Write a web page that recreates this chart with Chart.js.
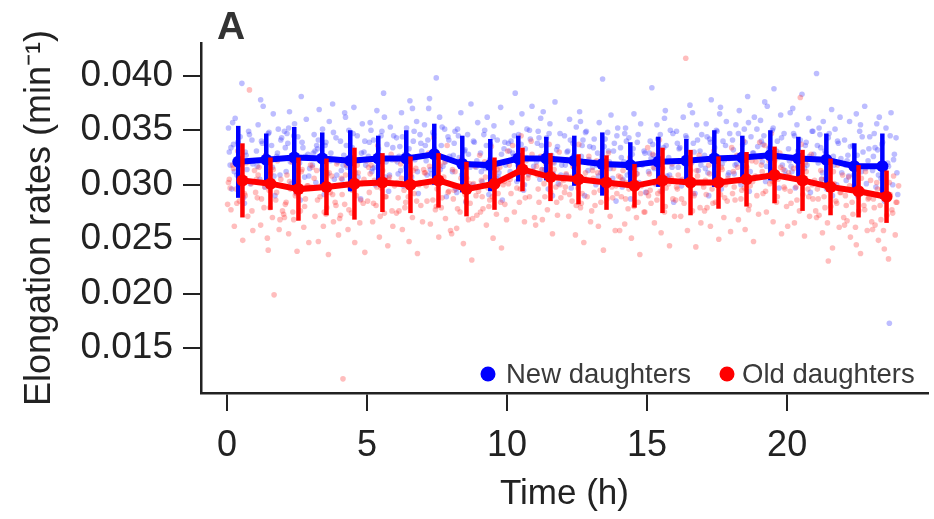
<!DOCTYPE html>
<html><head><meta charset="utf-8">
<script src="https://cdn.jsdelivr.net/npm/chart.js@4"></script>
<style>html,body{margin:0;padding:0;background:#fff;overflow:hidden}#wrap{width:934px;height:519px;position:relative}</style>
</head><body><div id="wrap"><canvas id="c" width="934" height="519"></canvas></div>
<script>
const panelLabel = 'A';
const seriesNames = ['New daughters', 'Old daughters'];
const xTicks = [0, 5, 10, 15, 20];
const yTicks = [0.015, 0.020, 0.025, 0.030, 0.035, 0.040];

const blueTime = [0.4,1.4,2.4,3.4,4.4,5.4,6.4,7.4,8.4,9.4,10.4,11.4,12.4,13.4,14.4,15.4,16.4,17.4,18.4,19.4,20.4,21.4,22.4,23.4];
const blueMean = [.0321,.0323,.0325,.0324,.0322,.0324,.0324,.0328,.0319,.0318,.0324,.0324,.0322,.0319,.0318,.0321,.0322,.0324,.0325,.0327,.0324,.0323,.0317,.0317];
const blueSD   = [.0033,.0024,.0028,.0024,.0028,.0021,.0026,.0028,.0026,.0024,.0021,.0020,.0023,.0029,.0021,.0023,.0020,.0026,.0020,.0023,.0020,.0024,.0021,.0030];

const redTime = [0.55,1.55,2.55,3.55,4.55,5.55,6.55,7.55,8.55,9.55,10.55,11.55,12.55,13.55,14.55,15.55,16.55,17.55,18.55,19.55,20.55,21.55,22.55,23.55];
const redMean = [.0304,.0301,.0296,.0298,.0301,.0302,.0300,.0304,.0296,.0301,.0314,.0307,.0305,.0302,.0299,.0304,.0302,.0302,.0305,.0309,.0304,.0298,.0294,.0289];
const redSD   = [.0034,.0024,.0029,.0026,.0033,.0027,.0026,.0025,.0025,.0024,.0020,.0022,.0023,.0025,.0020,.0030,.0030,.0024,.0025,.0026,.0028,.0026,.0024,.0024];

// individual cells: position within each hour bin, and rates per hour bin
const blueFrac = [.05,.11,.17,.23,.29,.35,.41,.47,.53,.59,.65,.71,.77,.83,.89,.95,.20,.62];
const redFrac  = [.08,.14,.20,.26,.32,.38,.44,.50,.56,.62,.68,.74,.80,.86,.92,.98,.02,.47];
const blueCloud = [
 [.0352,.0318,.0296,.0337,.0361,.0309,.0325,.0344,.0393,.0288,.0330,.0314,.0349,.0301,.0341,.0322,.0357,.0283],
 [.0331,.0355,.0305,.0340,.0372,.0298,.0320,.0347,.0312,.0336,.0365,.0290,.0326,.0351,.0309,.0343,.0378,.0316],
 [.0349,.0312,.0338,.0367,.0301,.0327,.0356,.0293,.0344,.0320,.0381,.0334,.0307,.0360,.0328,.0315,.0352,.0286],
 [.0318,.0346,.0302,.0333,.0369,.0325,.0351,.0291,.0339,.0310,.0358,.0329,.0374,.0305,.0343,.0321,.0336,.0297],
 [.0340,.0305,.0327,.0362,.0316,.0350,.0296,.0334,.0371,.0311,.0345,.0322,.0287,.0356,.0330,.0318,.0366,.0301],
 [.0326,.0357,.0312,.0341,.0300,.0368,.0333,.0319,.0349,.0384,.0307,.0337,.0294,.0353,.0323,.0345,.0315,.0362],
 [.0343,.0310,.0335,.0366,.0299,.0328,.0352,.0318,.0377,.0307,.0340,.0323,.0358,.0292,.0346,.0331,.0313,.0370],
 [.0355,.0322,.0341,.0379,.0310,.0348,.0333,.0398,.0301,.0362,.0336,.0317,.0351,.0289,.0344,.0326,.0370,.0314],
 [.0312,.0338,.0296,.0351,.0325,.0366,.0305,.0331,.0284,.0346,.0319,.0374,.0300,.0339,.0316,.0357,.0293,.0328],
 [.0329,.0303,.0346,.0315,.0362,.0291,.0337,.0320,.0354,.0299,.0341,.0311,.0371,.0286,.0333,.0318,.0350,.0306],
 [.0338,.0312,.0357,.0326,.0384,.0303,.0346,.0320,.0365,.0295,.0333,.0351,.0310,.0342,.0372,.0317,.0329,.0300],
 [.0321,.0349,.0305,.0336,.0367,.0314,.0343,.0296,.0356,.0327,.0310,.0376,.0332,.0301,.0347,.0318,.0361,.0290],
 [.0345,.0309,.0331,.0360,.0297,.0338,.0318,.0353,.0302,.0367,.0326,.0341,.0290,.0349,.0313,.0335,.0322,.0358],
 [.0316,.0342,.0300,.0329,.0357,.0311,.0397,.0335,.0294,.0348,.0321,.0364,.0306,.0338,.0285,.0352,.0318,.0331],
 [.0334,.0298,.0321,.0352,.0309,.0343,.0287,.0328,.0365,.0314,.0339,.0302,.0356,.0318,.0331,.0293,.0347,.0310],
 [.0312,.0340,.0389,.0327,.0301,.0355,.0319,.0346,.0294,.0334,.0368,.0308,.0325,.0350,.0316,.0284,.0337,.0361],
 [.0349,.0316,.0334,.0299,.0362,.0325,.0343,.0307,.0373,.0320,.0338,.0292,.0355,.0313,.0331,.0346,.0304,.0366],
 [.0327,.0356,.0311,.0342,.0378,.0302,.0334,.0350,.0318,.0365,.0296,.0340,.0323,.0358,.0309,.0347,.0290,.0371],
 [.0341,.0310,.0355,.0326,.0368,.0300,.0337,.0351,.0317,.0381,.0294,.0344,.0329,.0362,.0307,.0335,.0319,.0357],
 [.0359,.0321,.0345,.0303,.0372,.0333,.0314,.0350,.0388,.0326,.0340,.0297,.0364,.0318,.0347,.0309,.0376,.0331],
 [.0333,.0366,.0312,.0347,.0297,.0355,.0325,.0341,.0383,.0306,.0336,.0318,.0361,.0293,.0349,.0328,.0370,.0315],
 [.0402,.0320,.0346,.0305,.0358,.0331,.0296,.0343,.0315,.0369,.0326,.0351,.0300,.0338,.0362,.0311,.0334,.0290],
 [.0341,.0304,.0327,.0358,.0295,.0336,.0318,.0365,.0289,.0349,.0312,.0330,.0372,.0301,.0322,.0344,.0308,.0355],
 [.0313,.0347,.0298,.0332,.0362,.0306,.0339,.0285,.0352,.0320,.0173,.0366,.0300,.0328,.0343,.0291,.0356,.0317]
];
const redCloud = [
 [.0305,.0277,.0318,.0262,.0296,.0331,.0285,.0309,.0249,.0292,.0320,.0271,.0387,.0301,.0258,.0313,.0282,.0298],
 [.0288,.0316,.0263,.0302,.0279,.0327,.0251,.0295,.0310,.0270,.0199,.0286,.0322,.0259,.0305,.0276,.0293,.0240],
 [.0282,.0309,.0255,.0296,.0321,.0268,.0290,.0239,.0303,.0276,.0314,.0261,.0287,.0299,.0247,.0318,.0273,.0292],
 [.0297,.0271,.0313,.0248,.0289,.0325,.0262,.0301,.0279,.0236,.0293,.0308,.0266,.0284,.0319,.0254,.0298,.0275],
 [.0306,.0122,.0282,.0318,.0259,.0297,.0274,.0330,.0247,.0290,.0311,.0265,.0301,.0283,.0238,.0322,.0269,.0295],
 [.0293,.0318,.0266,.0304,.0281,.0336,.0252,.0297,.0313,.0274,.0289,.0244,.0307,.0328,.0262,.0299,.0285,.0271],
 [.0302,.0276,.0319,.0259,.0295,.0284,.0327,.0248,.0309,.0270,.0292,.0315,.0237,.0300,.0281,.0266,.0323,.0289],
 [.0311,.0285,.0329,.0264,.0302,.0343,.0277,.0296,.0252,.0318,.0288,.0307,.0269,.0336,.0294,.0258,.0314,.0280],
 [.0287,.0312,.0260,.0299,.0275,.0324,.0246,.0291,.0306,.0268,.0283,.0231,.0301,.0317,.0272,.0294,.0255,.0309],
 [.0304,.0278,.0321,.0263,.0297,.0286,.0335,.0251,.0311,.0273,.0292,.0316,.0242,.0300,.0282,.0268,.0327,.0289],
 [.0318,.0292,.0336,.0275,.0311,.0327,.0284,.0345,.0300,.0266,.0322,.0306,.0289,.0340,.0313,.0270,.0331,.0296],
 [.0309,.0284,.0326,.0268,.0301,.0319,.0277,.0337,.0293,.0255,.0314,.0298,.0272,.0330,.0288,.0305,.0263,.0322],
 [.0298,.0323,.0271,.0307,.0285,.0316,.0254,.0302,.0337,.0279,.0292,.0247,.0311,.0289,.0326,.0266,.0304,.0281],
 [.0306,.0281,.0322,.0262,.0295,.0313,.0240,.0301,.0287,.0329,.0271,.0298,.0315,.0258,.0292,.0308,.0276,.0319],
 [.0289,.0313,.0264,.0302,.0278,.0325,.0251,.0296,.0308,.0270,.0284,.0236,.0299,.0319,.0275,.0293,.0258,.0311],
 [.0310,.0283,.0328,.0265,.0301,.0292,.0341,.0256,.0315,.0275,.0297,.0321,.0244,.0306,.0287,.0271,.0334,.0294],
 [.0296,.0321,.0271,.0305,.0283,.0416,.0258,.0299,.0313,.0276,.0290,.0243,.0308,.0327,.0265,.0301,.0286,.0318],
 [.0304,.0279,.0318,.0262,.0296,.0331,.0284,.0307,.0250,.0291,.0314,.0270,.0300,.0285,.0324,.0257,.0298,.0310],
 [.0312,.0286,.0327,.0268,.0303,.0295,.0340,.0259,.0316,.0277,.0299,.0322,.0248,.0308,.0290,.0273,.0334,.0297],
 [.0318,.0292,.0336,.0275,.0309,.0301,.0347,.0266,.0322,.0284,.0305,.0329,.0255,.0314,.0296,.0280,.0339,.0303],
 [.0308,.0283,.0324,.0265,.0298,.0317,.0276,.0337,.0291,.0253,.0312,.0296,.0271,.0328,.0287,.0304,.0262,.0380],
 [.0296,.0272,.0313,.0256,.0289,.0306,.0265,.0324,.0280,.0242,.0301,.0285,.0318,.0261,.0293,.0309,.0276,.0230],
 [.0290,.0267,.0307,.0252,.0284,.0299,.0261,.0318,.0276,.0237,.0295,.0281,.0312,.0258,.0288,.0304,.0270,.0245],
 [.0287,.0263,.0302,.0249,.0281,.0296,.0258,.0314,.0272,.0232,.0291,.0277,.0308,.0254,.0284,.0299,.0266,.0241]
];
// additional cells near the centre of each cloud
const blueFrac2 = [.08,.26,.38,.50,.68,.80,.92,.14];
const redFrac2  = [.11,.23,.35,.53,.65,.77,.89,.05];
const blueCloud2 = [
 [.0330,.0312,.0339,.0305,.0327,.0346,.0319,.0334],[.0317,.0338,.0327,.0348,.0308,.0329,.0341,.0322],
 [.0334,.0321,.0345,.0313,.0339,.0326,.0308,.0347],[.0329,.0341,.0314,.0336,.0322,.0348,.0309,.0331],
 [.0313,.0336,.0324,.0347,.0307,.0329,.0340,.0318],[.0339,.0316,.0328,.0345,.0321,.0309,.0334,.0350],
 [.0321,.0344,.0316,.0333,.0349,.0312,.0338,.0326],[.0336,.0314,.0346,.0327,.0353,.0321,.0341,.0309],
 [.0327,.0345,.0309,.0332,.0316,.0340,.0322,.0349],[.0312,.0336,.0323,.0344,.0307,.0328,.0339,.0317],
 [.0331,.0345,.0318,.0337,.0325,.0350,.0312,.0340],[.0338,.0314,.0329,.0347,.0320,.0335,.0309,.0343],
 [.0318,.0341,.0327,.0311,.0336,.0348,.0323,.0330],[.0334,.0308,.0326,.0342,.0315,.0331,.0345,.0321],
 [.0325,.0340,.0311,.0333,.0346,.0319,.0329,.0305],[.0329,.0315,.0342,.0321,.0336,.0309,.0347,.0324],
 [.0338,.0321,.0345,.0311,.0330,.0341,.0318,.0333],[.0315,.0339,.0328,.0349,.0319,.0336,.0311,.0344],
 [.0332,.0347,.0321,.0339,.0312,.0329,.0351,.0318],[.0340,.0317,.0334,.0352,.0325,.0343,.0313,.0337],
 [.0322,.0345,.0331,.0312,.0339,.0326,.0349,.0317],[.0336,.0311,.0329,.0347,.0318,.0340,.0324,.0352],
 [.0318,.0335,.0309,.0327,.0344,.0315,.0333,.0322],[.0326,.0309,.0337,.0318,.0345,.0323,.0311,.0334]
];
const redCloud2 = [
 [.0297,.0315,.0283,.0308,.0290,.0321,.0276,.0302],[.0309,.0287,.0298,.0279,.0314,.0293,.0268,.0305],
 [.0284,.0303,.0275,.0295,.0312,.0280,.0299,.0270],[.0306,.0286,.0299,.0273,.0311,.0291,.0281,.0316],
 [.0291,.0309,.0277,.0300,.0318,.0286,.0305,.0272],[.0310,.0283,.0298,.0321,.0289,.0305,.0276,.0316],
 [.0288,.0306,.0279,.0297,.0313,.0285,.0302,.0274],[.0299,.0317,.0286,.0308,.0279,.0321,.0293,.0311],
 [.0295,.0278,.0306,.0285,.0301,.0269,.0290,.0314],[.0289,.0307,.0280,.0296,.0314,.0284,.0303,.0275],
 [.0305,.0323,.0297,.0317,.0288,.0309,.0328,.0301],[.0296,.0314,.0289,.0306,.0321,.0284,.0300,.0317],
 [.0310,.0291,.0317,.0297,.0283,.0306,.0320,.0293],[.0293,.0311,.0284,.0304,.0318,.0288,.0299,.0313],
 [.0304,.0287,.0296,.0280,.0310,.0292,.0275,.0307],[.0295,.0316,.0286,.0308,.0280,.0301,.0319,.0290],
 [.0309,.0287,.0302,.0322,.0292,.0313,.0279,.0298],[.0291,.0310,.0283,.0301,.0316,.0288,.0306,.0276],
 [.0298,.0316,.0287,.0309,.0281,.0303,.0321,.0292],[.0312,.0294,.0322,.0303,.0289,.0316,.0298,.0325],
 [.0294,.0315,.0286,.0306,.0320,.0289,.0300,.0311],[.0287,.0305,.0279,.0297,.0312,.0283,.0293,.0270],
 [.0281,.0299,.0273,.0290,.0306,.0277,.0287,.0263],[.0279,.0296,.0268,.0288,.0302,.0274,.0284,.0259]
];

const BLUE = '#0000ff', RED = '#ff0000', INK = '#222222';
const FONT = "'Liberation Sans', Arial, Helvetica, sans-serif";

function cloudPoints(cloud, frac, cloudB, fracB){
  const pts = [];
  cloud.forEach((row, b) => row.forEach((v, j) => pts.push({x: b + frac[j], y: v})));
  cloudB.forEach((row, b) => row.forEach((v, j) => pts.push({x: b + fracB[j], y: v})));
  return pts;
}
const pairs = (xs, ys) => xs.map((x, i) => ({x, y: ys[i]}));

const extras = {
  id: 'extras',
  afterDatasetDraw(chart, args){
    const ds = chart.data.datasets[args.index];
    if (!ds.sd) return;
    const {ctx, scales: {x, y}} = chart;
    ctx.save();
    ctx.strokeStyle = ds.borderColor;
    ctx.lineWidth = 4.5;
    ctx.lineCap = 'butt';
    ds.data.forEach((p, i) => {
      const px = x.getPixelForValue(p.x);
      ctx.beginPath();
      ctx.moveTo(px, y.getPixelForValue(p.y - ds.sd[i]));
      ctx.lineTo(px, y.getPixelForValue(p.y + ds.sd[i]));
      ctx.stroke();
    });
    ctx.restore();
  },
  afterDraw(chart){
    const ctx = chart.ctx;
    ctx.save();
    ctx.fillStyle = '#333';
    ctx.font = 'bold 39px ' + FONT;
    ctx.textBaseline = 'alphabetic';
    ctx.textAlign = 'left';
    ctx.fillText(panelLabel, 217, 39);
    // legend
    const items = [[seriesNames[0], BLUE, 488, 506], [seriesNames[1], RED, 727, 742]];
    ctx.font = '27.5px ' + FONT;
    ctx.textBaseline = 'middle';
    items.forEach(([t, c, dx, tx]) => {
      ctx.fillStyle = c;
      ctx.beginPath(); ctx.arc(dx, 374, 7.5, 0, Math.PI * 2); ctx.fill();
      ctx.fillStyle = '#3a3a3a';
      ctx.fillText(t, tx, 375);
    });
    ctx.restore();
  }
};

new Chart(document.getElementById('c'), {
  type: 'scatter',
  data: {
    datasets: [
      {label: seriesNames[1], data: pairs(redTime, redMean), sd: redSD, showLine: true,
       borderColor: RED, backgroundColor: RED, borderWidth: 6, pointRadius: 6, pointBorderWidth: 0, tension: 0},
      {label: seriesNames[0], data: pairs(blueTime, blueMean), sd: blueSD, showLine: true,
       borderColor: BLUE, backgroundColor: BLUE, borderWidth: 6, pointRadius: 6, pointBorderWidth: 0, tension: 0},
      {label: 'red cells', data: cloudPoints(redCloud, redFrac, redCloud2, redFrac2), backgroundColor: 'rgba(255,50,50,0.32)',
       borderWidth: 0, pointRadius: 2.8},
      {label: 'blue cells', data: cloudPoints(blueCloud, blueFrac, blueCloud2, blueFrac2), backgroundColor: 'rgba(50,50,255,0.32)',
       borderWidth: 0, pointRadius: 2.8}
    ]
  },
  options: {
    responsive: false, animation: false, devicePixelRatio: 1,
    layout: {padding: {top: 43, left: 0, right: 0, bottom: 0}},
    plugins: {legend: {display: false}, tooltip: {enabled: false}},
    scales: {
      x: {
        type: 'linear', min: -0.93, max: 25.03,
        afterBuildTicks: s => { s.ticks = xTicks.map(v => ({value: v})); },
        afterFit: s => { s.height = 126; },
        grid: {display: true, drawOnChartArea: false, drawTicks: true, tickLength: 18, color: INK, lineWidth: 2},
        border: {display: true, color: INK, width: 2.5},
        ticks: {font: {family: FONT, size: 36}, color: INK, padding: 13, maxRotation: 0, autoSkip: false},
        title: {display: true, text: 'Time (h)', font: {family: FONT, size: 35, lineHeight: 1}, color: INK, padding: {top: 0, bottom: 7}}
      },
      y: {
        type: 'linear', min: 0.0109, max: 0.0430,
        afterBuildTicks: s => { s.ticks = yTicks.map(v => ({value: v})); },
        afterFit: s => { s.width = 201; },
        grid: {display: true, drawOnChartArea: false, drawTicks: true, tickLength: 18, color: INK, lineWidth: 2},
        border: {display: true, color: INK, width: 2.5},
        ticks: {font: {family: FONT, size: 37}, color: INK, padding: 10, callback: v => v.toFixed(3)},
        title: {display: true, text: 'Elongation rates (min\u207B\u00B9)', font: {family: FONT, size: 36, lineHeight: 1}, color: INK, padding: {top: 22, bottom: 0}}
      }
    }
  },
  plugins: [extras]
});
</script>
</body></html>
